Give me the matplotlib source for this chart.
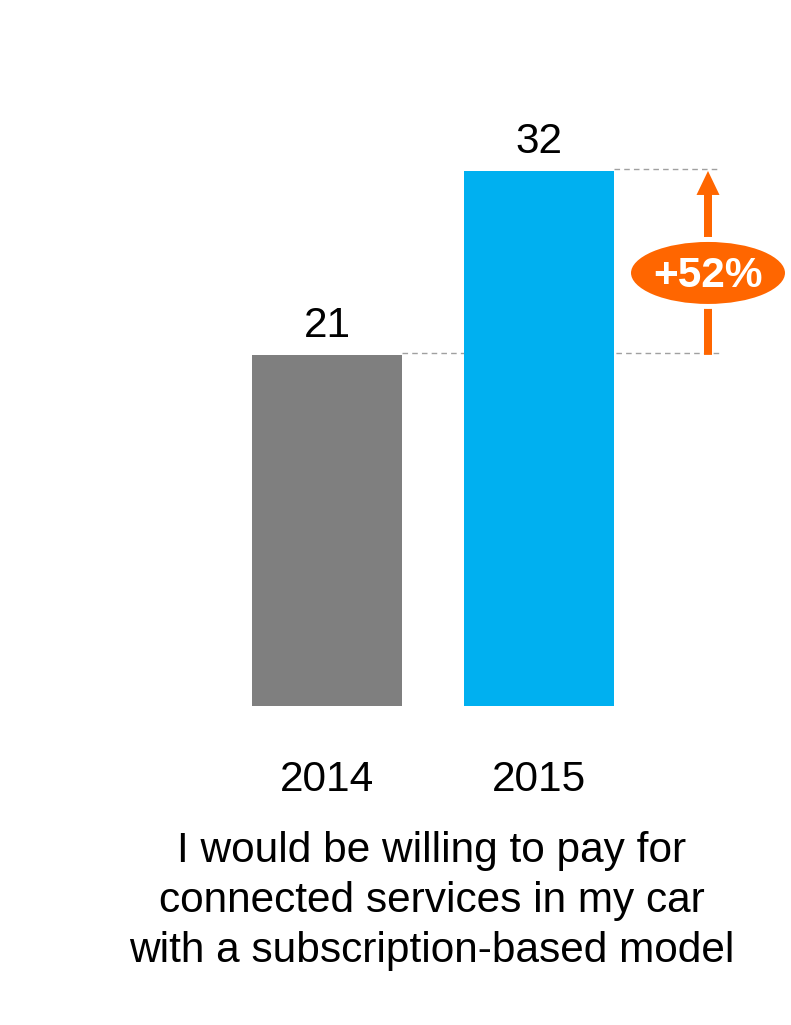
import matplotlib
matplotlib.use("Agg")
import matplotlib.pyplot as plt
from matplotlib.patches import Ellipse, FancyArrow

plt.rcParams['font.family'] = ['Liberation Sans', 'DejaVu Sans']

# Data
years = ["2014", "2015"]
values = [21, 32]
bar_colors = ["#7F7F7F", "#00B0F0"]
caption_lines = [
    "I would be willing to pay for",
    "connected services in my car",
    "with a subscription-based model",
]

ORANGE = "#FF6600"
W, H, DPI = 791, 1025, 100
PT = 72.0 / DPI  # points per pixel

fig = plt.figure(figsize=(W / DPI, H / DPI), dpi=DPI)
fig.patch.set_facecolor("white")

# Plot area: baseline of the bars sits 706 px from the top of the figure
base_px = 706
ax = fig.add_axes([0, (H - base_px) / H, 1, base_px / H])
px_per_x = 212.0
px_per_y = 16.72
x0_px = 327.0
ax.set_xlim(-x0_px / px_per_x, (W - x0_px) / px_per_x)
ax.set_ylim(0, base_px / px_per_y)
ax.axis("off")

bar_w = 150 / px_per_x
xs = list(range(len(values)))
ax.bar(xs, values, width=bar_w, color=bar_colors, zorder=2)

FS = 30.5

# Value labels above bars
for x, v in zip(xs, values):
    ax.annotate(f"{v}", xy=(x, v), xytext=(0, 18 * PT), textcoords="offset points",
                ha="center", va="baseline", fontsize=FS, color="black")

# Year labels below bars
for x, yr in zip(xs, years):
    ax.annotate(yr, xy=(x, 0), xytext=(0, -85 * PT), textcoords="offset points",
                ha="center", va="baseline", fontsize=FS, color="black",
                annotation_clip=False)

# Growth indicator: dashed guides, arrow and badge
arrow_x = (708 - x0_px) / px_per_x
guide_end = (720 - x0_px) / px_per_x
for x, v in zip(xs, values):
    ax.hlines(v + 0.1, x + bar_w / 2, guide_end, colors="#A0A0A0",
              linestyles=(0, (4, 3)), linewidth=1.0, zorder=1)

head_len = 24 / px_per_y
arrow = FancyArrow(arrow_x, values[0], 0, values[1] - values[0] - head_len,
                   width=8 / px_per_x, head_width=23 / px_per_x,
                   head_length=head_len, length_includes_head=False,
                   color=ORANGE, linewidth=0, zorder=3)
ax.add_patch(arrow)

badge_y = (values[0] + values[1]) / 2 - 0.6
badge = Ellipse((arrow_x, badge_y), width=159 / px_per_x, height=67 / px_per_y,
                facecolor=ORANGE, edgecolor="white", linewidth=5 * PT, zorder=4)
ax.add_patch(badge)

growth = (values[1] - values[0]) / values[0] * 100
ax.annotate(f"+{growth:.0f}%", xy=(arrow_x, badge_y), xytext=(0, -14 * PT),
            textcoords="offset points", ha="center", va="baseline",
            fontsize=FS, fontweight="bold", color="white", zorder=5)

# Caption under the chart
baselines = [862, 912, 962]
for line, by in zip(caption_lines, baselines):
    fig.text(432 / W, (H - by) / H, line, ha="center", va="baseline",
             fontsize=FS, color="black")

fig.savefig("out.png", dpi=DPI, facecolor="white")
